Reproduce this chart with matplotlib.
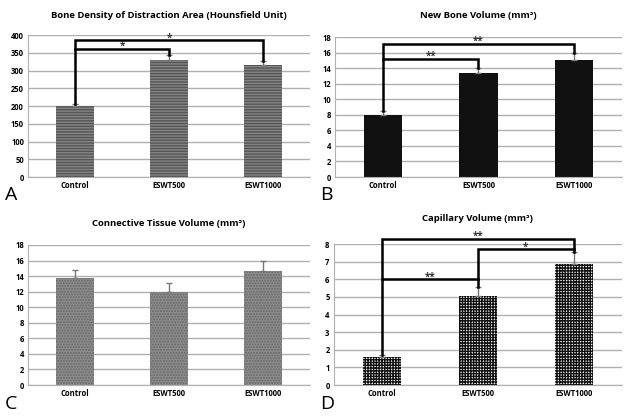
import matplotlib
matplotlib.use("Agg")
import matplotlib.pyplot as plt

plt.rcParams['font.family'] = ['Open Sans', 'DejaVu Sans']

groups = ["Control", "ESWT500", "ESWT1000"]

density = [200, 330, 315]
density_err = [5, 15, 12]

new_bone = [8.0, 13.4, 15.0]
new_bone_err = [0.5, 0.6, 0.9]

connective = [13.7, 12.0, 14.7]
connective_err = [1.1, 1.1, 1.3]

capillary = [1.6, 5.05, 6.85]
capillary_err = [0.1, 0.5, 0.7]

# (left group, right group, bracket height, left foot, right foot, label)
density_sig = [(0, 1, 360, 205, 345, "*"), (0, 2, 385, 360, 328, "*")]
new_bone_sig = [(0, 1, 15.2, 8.5, 14.0, "**"), (0, 2, 17.1, 15.2, 15.9, "**")]
capillary_sig = [(0, 1, 6.0, 1.7, 5.55, "**"), (1, 2, 7.7, 6.0, 7.55, "*"),
                 (0, 2, 8.3, 6.0, 7.7, "**")]

fig = plt.figure(figsize=(6.25, 4.17), dpi=100)

panels = [
    ("A", [0.045, 0.5755, 0.451, 0.3405], density, density_err, density_sig,
     "Bone Density of Distraction Area (Hounsfield Unit)", 400, 50,
     dict(facecolor="#858585", hatch="------", edgecolor="#555555"), 0.962),
    ("B", [0.536, 0.5755, 0.459, 0.3355], new_bone, new_bone_err, new_bone_sig,
     "New Bone Volume (mm³)", 18, 2,
     dict(facecolor="#111111", hatch="", edgecolor="#111111"), 0.962),
    ("C", [0.045, 0.0767, 0.451, 0.3358], connective, connective_err, [],
     "Connective Tissue Volume (mm³)", 18, 2,
     dict(facecolor="#8c8c8c", hatch="......", edgecolor="#6a6a6a"), 0.463),
    ("D", [0.534, 0.0767, 0.461, 0.338], capillary, capillary_err, capillary_sig,
     "Capillary Volume (mm³)", 8, 1,
     dict(facecolor="white", hatch="++++++", edgecolor="#111111"), 0.477),
]

letter_pos = {"A": (0.008, 0.52), "B": (0.512, 0.52), "C": (0.008, 0.02), "D": (0.512, 0.02)}

for letter, rect, vals, errs, sig, title, ymax, step, style, title_y in panels:
    ax = fig.add_axes(rect)
    x = range(len(groups))
    plt.rcParams['hatch.linewidth'] = 1.0
    ax.bar(x, vals, width=0.4, linewidth=0, zorder=2, **style)
    ax.errorbar(x, vals, yerr=[[0] * len(errs), errs], fmt="none",
                ecolor="#777777", elinewidth=1, capsize=2.5, capthick=1, zorder=3)
    ax.set_xlim(-0.5, 2.5)
    ax.set_ylim(0, ymax)
    ax.set_yticks(range(0, ymax + 1, step))
    ax.yaxis.grid(True, color="#b0b0b0", linewidth=1, zorder=0)
    ax.set_axisbelow(True)
    ax.set_xticks(list(x))
    ax.set_xticklabels(groups)
    ax.tick_params(axis="both", length=0, labelsize=5.5, pad=3)
    for lab in ax.get_xticklabels() + ax.get_yticklabels():
        lab.set_fontweight("bold")
    for s in ["top", "right"]:
        ax.spines[s].set_visible(False)
    ax.spines["left"].set_color("#b0b0b0")
    ax.spines["bottom"].set_color("#b0b0b0")
    fig.text(rect[0] + rect[2] / 2, title_y, title, ha="center", va="center",
             fontsize=6.8, fontweight="bold")
    for a, b, h, fa, fb, lab in sig:
        ax.plot([a, a, b, b], [fa, h, h, fb], color="black", linewidth=1.8,
                clip_on=False, zorder=4, solid_joinstyle="miter")
        ax.text((a + b) / 2, h + ymax * 0.018, lab, ha="center", va="center",
                fontsize=7, fontweight="bold", color="#333333")
    fig.text(letter_pos[letter][0], letter_pos[letter][1], letter, fontsize=14)

plt.savefig("out.png", dpi=100)
